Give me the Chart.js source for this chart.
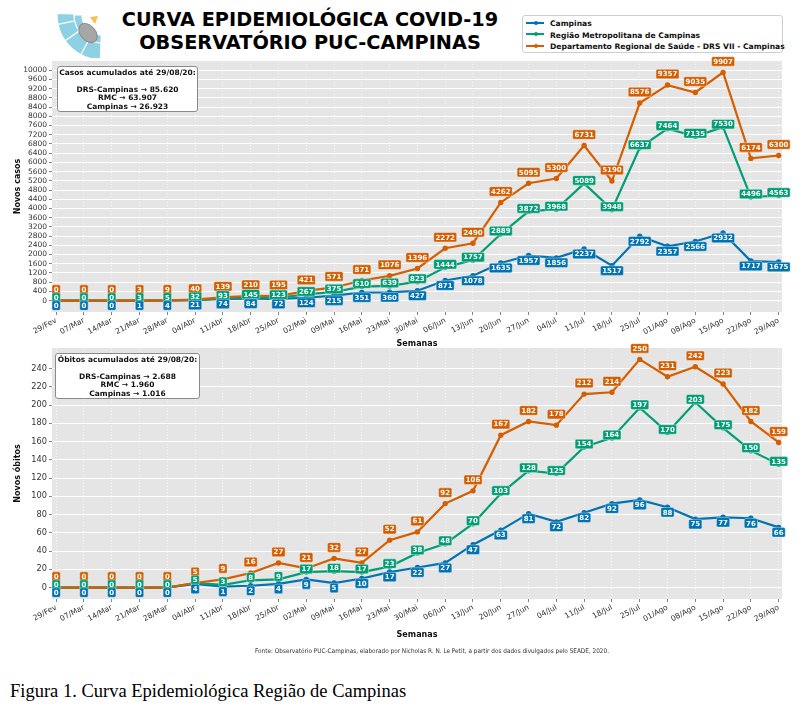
<!DOCTYPE html>
<html><head><meta charset="utf-8">
<script src="https://cdn.jsdelivr.net/npm/chart.js@4.4.1/dist/chart.umd.min.js"></script>
<style>
body{margin:0;background:#fff;width:804px;height:712px;position:relative;overflow:hidden;font-family:"DejaVu Sans",sans-serif;}
canvas{position:absolute;left:0;}
#c1{top:0;}
#c2{top:340px;}
.ttl{position:absolute;left:110px;width:400px;text-align:center;font-weight:bold;font-size:19.3px;color:#000;white-space:nowrap;line-height:22px;}
.note{position:absolute;background:#fff;border:1px solid #8a8a8a;border-radius:3px;font-weight:bold;font-size:7.5px;color:#111;text-align:center;line-height:8.6px;box-sizing:border-box;padding-top:1.5px;}
#legend{position:absolute;left:522px;top:15px;width:261px;height:38px;border:1px solid #cfcfcf;border-radius:3px;background:#fff;box-sizing:border-box;}
.li{position:absolute;left:3px;height:11px;font-weight:bold;font-size:7.6px;color:#111;line-height:11px;white-space:nowrap;}
.li span.ln{display:inline-block;width:18px;height:2px;vertical-align:middle;margin-right:6px;position:relative;top:-1px;}
.li span.ln i{position:absolute;left:7.5px;top:-1px;width:4px;height:4px;border-radius:50%;background:inherit;}
#fonte{position:absolute;left:132px;width:600px;top:647px;text-align:center;font-family:"DejaVu Sans Condensed","DejaVu Sans",sans-serif;font-stretch:condensed;font-size:6.4px;color:#333;white-space:nowrap;}
#cap{position:absolute;left:10px;top:681px;font-family:"Liberation Serif","Times New Roman",serif;font-size:18.5px;color:#000;white-space:nowrap;}
</style></head>
<body>
<svg style="position:absolute;left:57px;top:12px" width="46" height="46" viewBox="0 0 46 46">
  <g fill="#8fd1e4" stroke="#fff" stroke-width="1.2">
    <path id="s1"/>
  </g>
</svg>
<div class="ttl" style="top:9px">CURVA EPIDEMIOLÓGICA COVID-19</div>
<div class="ttl" style="top:32px">OBSERVATÓRIO PUC-CAMPINAS</div>
<div id="legend">
  <div class="li" style="top:2px"><span class="ln" style="background:#0173b2"><i></i></span>Campinas</div>
  <div class="li" style="top:13.5px"><span class="ln" style="background:#029e73"><i></i></span>Região Metropolitana de Campinas</div>
  <div class="li" style="top:25px"><span class="ln" style="background:#d55e00"><i></i></span>Departamento Regional de Saúde - DRS VII - Campinas</div>
</div>
<canvas id="c1" width="804" height="352"></canvas>
<canvas id="c2" width="804" height="305"></canvas>
<div class="note" style="left:57px;top:66px;width:141px;height:46px" id="n1"></div>
<div class="note" style="left:55px;top:353px;width:145px;height:46px" id="n2"></div>
<div id="fonte">Fonte: Observatório PUC-Campinas, elaborado por Nicholas R. N. Le Petit, a partir dos dados divulgados pelo SEADE, 2020.</div>
<div id="cap">Figura 1. Curva Epidemiológica Região de Campinas</div>
<script>
const weeks = ["29/Fev","07/Mar","14/Mar","21/Mar","28/Mar","04/Abr","11/Abr","18/Abr","25/Abr","02/Mai","09/Mai","16/Mai","23/Mai","30/Mai","06/Jun","13/Jun","20/Jun","27/Jun","04/Jul","11/Jul","18/Jul","25/Jul","01/Ago","08/Ago","15/Ago","22/Ago","29/Ago"];

const casosCampinas = [0,0,0,1,4,21,74,84,72,124,215,351,360,427,871,1078,1635,1957,1856,2237,1517,2792,2357,2566,2932,1717,1675];
const casosRMC      = [0,0,0,3,5,32,93,145,123,267,375,610,639,823,1444,1757,2889,3872,3968,5089,3948,6637,7464,7135,7530,4496,4563];
const casosDRS      = [0,0,0,3,9,40,139,210,195,421,571,871,1076,1396,2272,2490,4262,5095,5300,6731,5190,8576,9357,9035,9907,6174,6300];

const obitosCampinas = [0,0,0,0,0,4,1,2,4,9,5,10,17,22,27,47,63,81,72,82,92,96,88,75,77,76,66];
const obitosRMC      = [0,0,0,0,0,5,3,8,9,17,18,17,23,38,48,70,103,128,125,154,164,197,170,203,175,150,135];
const obitosDRS      = [0,0,0,0,0,5,9,16,27,21,32,27,52,61,92,106,167,182,178,212,214,250,231,242,223,182,159];

const casosYTicks = [0,400,800,1200,1600,2000,2400,2800,3200,3600,4000,4400,4800,5200,5600,6000,6400,6800,7200,7600,8000,8400,8800,9200,9600,10000];
const obitosYTicks = [0,20,40,60,80,100,120,140,160,180,200,220,240];

const seriesNames = ["Campinas","Região Metropolitana de Campinas","Departamento Regional de Saúde - DRS VII - Campinas"];
const notaCasos = ["Casos acumulados até 29/08/20:","","DRS-Campinas → 85.620","RMC → 63.907","Campinas → 26.923"];
const notaObitos = ["Óbitos acumulados até 29/08/20:","","DRS-Campinas → 2.688","RMC → 1.960","Campinas → 1.016"];

document.getElementById('n1').innerHTML = notaCasos.map(s=>s||'&nbsp;').join('<br>');
document.getElementById('n2').innerHTML = notaObitos.map(s=>s||'&nbsp;').join('<br>');

// logo
(function(){
  const cx=45, cy=3; let d='';
  function sec(r1,r2,a1,a2){const t=Math.PI/180;const p=(r,a)=>[(cx+r*Math.cos(a*t)).toFixed(2),(cy+r*Math.sin(a*t)).toFixed(2)];
    const A=p(r2,a1),B=p(r2,a2),C=p(r1,a2),D=p(r1,a1);
    return `M${A} A${r2},${r2} 0 0 1 ${B} L${C} A${r1},${r1} 0 0 0 ${D} Z `;}
  d+=sec(28,45,92,118)+sec(28,45,118,145)+sec(28,45,145,168)+sec(28,45,168,182);
  d+=sec(20,28,92,135)+sec(20,28,135,180);
  document.getElementById('s1').setAttribute('d',d);
  const svg=document.querySelector('svg');
  svg.insertAdjacentHTML('beforeend','<ellipse cx="31" cy="21" rx="11" ry="7.5" transform="rotate(48 31 21)" fill="#a7a7a7" stroke="#7a7a7a" stroke-width="0.8"/><polygon points="33,5 41,4 38,12" fill="#f2c14e"/>');
})();

const colors = ["#0173b2","#029e73","#d55e00"];
const labelDy = [5,-3,-11];

const bgPlugin = {id:'bg', beforeDraw(chart){const {ctx, chartArea:a}=chart; ctx.save(); ctx.fillStyle='#e5e5e5'; ctx.fillRect(a.left,a.top,a.right-a.left,a.bottom-a.top); ctx.restore();}};

const labelPlugin = {id:'vlabels', afterDatasetsDraw(chart){
  const ctx=chart.ctx; ctx.save();
  ctx.font='bold 7px "DejaVu Sans"'; ctx.textAlign='center'; ctx.textBaseline='middle';
  chart.data.datasets.forEach((ds,di)=>{
    const meta=chart.getDatasetMeta(di);
    meta.data.forEach((pt,i)=>{
      const txt=String(ds.data[i].y);
      const w=ctx.measureText(txt).width+3.5, h=9.5;
      const x=pt.x, y=pt.y+ds.labelDy;
      ctx.beginPath();
      ctx.roundRect(x-w/2,y-h/2,w,h,1.5);
      ctx.fillStyle=ds.borderColor; ctx.fill();
      ctx.lineWidth=0.7; ctx.strokeStyle='rgba(255,255,255,0.55)'; ctx.stroke();
      ctx.fillStyle='#fff'; ctx.fillText(txt,x,y+0.5);
    });
  });
  ctx.restore();}};

function makeChart(id, seriesArr, yTicks, yMin, yMax, padTop, xh, yTitle, xTitlePadBottom, yFont){
  const ds = [2,1,0].map(k=>({
    label: seriesNames[k],
    data: seriesArr[k].map((v,i)=>({x:i,y:v})),
    borderColor: colors[k], backgroundColor: colors[k],
    borderWidth: 2.2, pointRadius: 1.6, pointHoverRadius: 1.6,
    tension: 0, fill:false, labelDy: labelDy[k]
  }));
  return new Chart(document.getElementById(id), {
    type:'line',
    data:{datasets:ds},
    options:{
      responsive:false, animation:false, devicePixelRatio:1,
      layout:{padding:{top:padTop,left:0,right:22,bottom:0}},
      plugins:{legend:{display:false}, tooltip:{enabled:false}},
      scales:{
        x:{type:'linear', min:-0.15, max:26.12,
          afterBuildTicks:s=>{s.ticks=weeks.map((_,i)=>({value:i}));},
          ticks:{callback:(v)=>weeks[v], autoSkip:false, maxRotation:28, minRotation:28, font:{family:'DejaVu Sans',size:7.6}, color:'#333', padding:1},
          grid:{color:'rgba(255,255,255,0.8)', lineWidth:0.8, tickColor:'#666', tickLength:3, tickWidth:0.8},
          border:{display:false, dash:[1,2]},
          title:{display:true, text:'Semanas', font:{family:'DejaVu Sans',size:8,weight:'bold'}, color:'#111', padding:{top:0,bottom:xTitlePadBottom}},
          afterFit:s=>{s.height=xh;}
        },
        y:{min:yMin, max:yMax,
          afterBuildTicks:s=>{s.ticks=yTicks.map(v=>({value:v}));},
          ticks:{autoSkip:false, callback:(v)=>String(v), font:{family:'DejaVu Sans',size:yFont}, color:'#333', padding:2},
          grid:{color:'#ffffff', lineWidth:1, tickColor:'#666', tickLength:3, tickWidth:0.8},
          border:{display:false},
          title:{display:true, text:yTitle, font:{family:'DejaVu Sans',size:8,weight:'bold'}, color:'#111', padding:{top:13,bottom:0}},
          afterFit:s=>{s.width=52;}
        }
      }
    },
    plugins:[bgPlugin,labelPlugin]
  });
}

makeChart('c1',[casosCampinas,casosRMC,casosDRS],casosYTicks,-495,10402,61,40,'Novos casos',3.2,7.5);
makeChart('c2',[obitosCampinas,obitosRMC,obitosDRS],obitosYTicks,-12.5,262.5,8,46,'Novos óbitos',5,8.2);
</script>
</body></html>
